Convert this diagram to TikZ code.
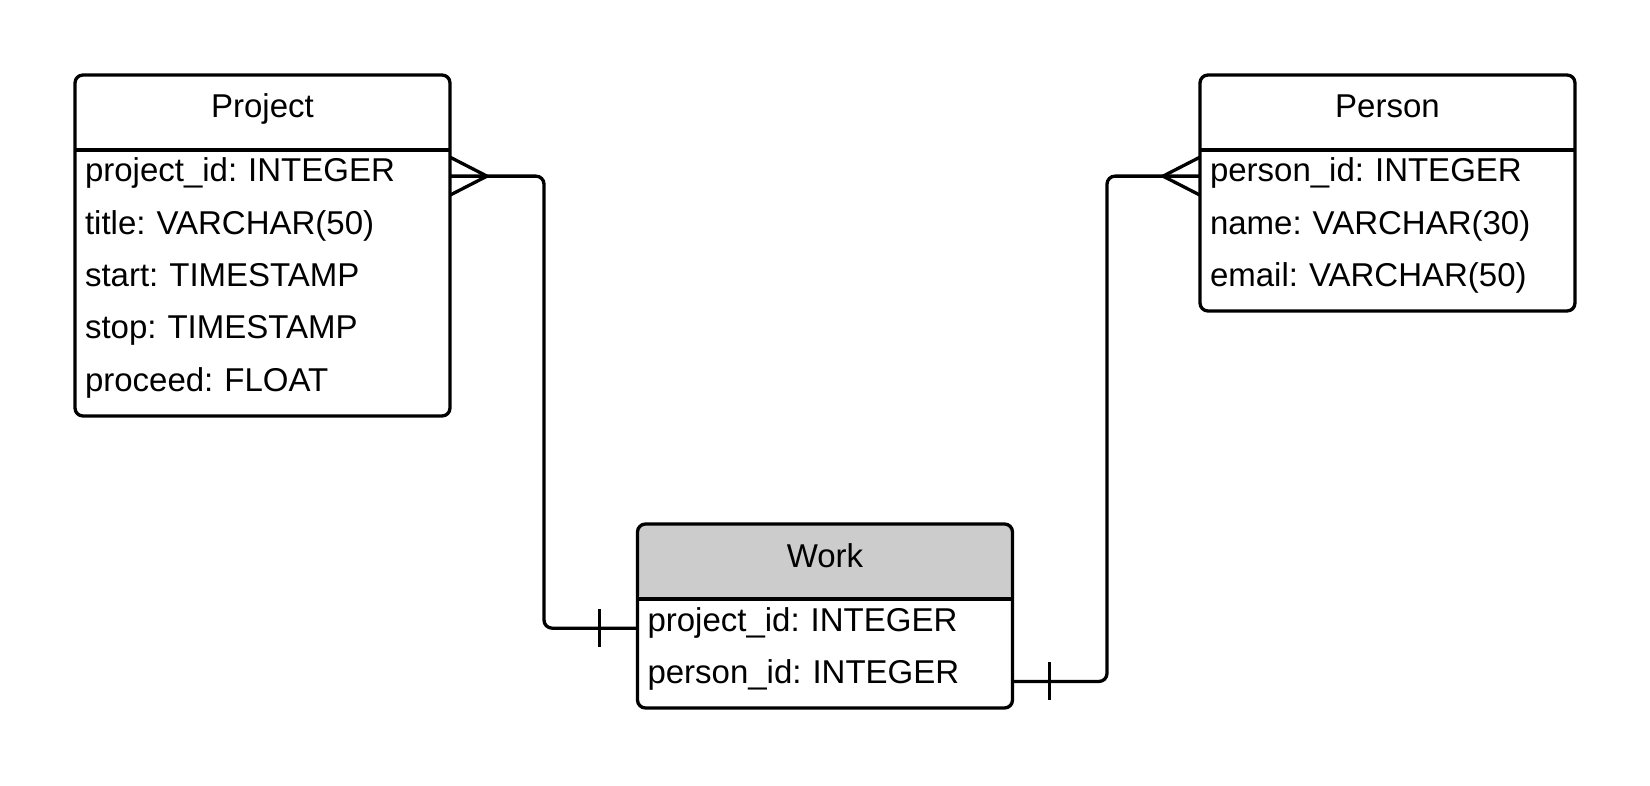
\documentclass[tikz,border=0pt]{standalone}
\usepackage{fontspec}
\setmainfont{Liberation Sans}
\usepackage{tikz}
\usetikzlibrary{positioning}
\frenchspacing
\definecolor{hdrgray}{RGB}{204,204,204}
\newcommand{\linkwidth}{3.3pt}
\newcommand{\crowfoot}[2]{\draw[line width=\linkwidth] ([yshift=19pt]#1)--([xshift=#2]#1)--([yshift=-19pt]#1);}
\newcommand{\onebar}[2]{\draw[line width=\linkwidth] ([xshift=#2,yshift=19pt]#1)--([xshift=#2,yshift=-19pt]#1);}
\newcommand{\headrule}[1]{\draw[line width=\linkwidth] (#1.south west)--(#1.south east);}
\tikzset{
  entity/.style={draw, line width=\linkwidth, rounded corners=8pt, minimum width=375pt, inner sep=0pt, outer sep=0pt},
  header/.style={minimum width=375pt, minimum height=75pt, inner sep=0pt, outer sep=0pt, text height=23pt, text depth=12pt, font=\fontsize{33}{40}\selectfont},
  field/.style={text width=355pt, inner xsep=10pt, inner ysep=0pt, outer sep=0pt, align=left, text height=32pt, text depth=20.3pt, font=\fontsize{33}{40}\selectfont},
  link/.style={draw, line width=\linkwidth, rounded corners=8pt},
  grayhead/.style={path picture={\fill[hdrgray] (path picture bounding box.north west) rectangle ([yshift=-75pt]path picture bounding box.north east);}}
}
\begin{document}
\begin{tikzpicture}[x=1pt,y=-1pt]
\useasboundingbox (0,0) rectangle (1650,786);
% Project
\node[entity, minimum height=341pt] (project) at (262.5,245.5) {};
\node[header, below=0pt of project.north] (project-h) {Project};
\headrule{project-h}
\node[field, below=0pt of project-h] (project-1) {project\_id: INTEGER};
\node[field, below=0pt of project-1] (project-2) {title: VARCHAR(50)};
\node[field, below=0pt of project-2] (project-3) {start: TIMESTAMP};
\node[field, below=0pt of project-3] (project-4) {stop: TIMESTAMP};
\node[field, below=0pt of project-4] (project-5) {proceed: FLOAT};
% Person
\node[entity, minimum height=236pt] (person) at (1387.5,193) {};
\node[header, below=0pt of person.north] (person-h) {Person};
\headrule{person-h}
\node[field, below=0pt of person-h] (person-1) {person\_id: INTEGER};
\node[field, below=0pt of person-1] (person-2) {name: VARCHAR(30)};
\node[field, below=0pt of person-2] (person-3) {email: VARCHAR(50)};
% Work
\node[entity, grayhead, minimum height=184pt] (work) at (825,616) {};
\node[header, below=0pt of work.north] (work-h) {Work};
\headrule{work-h}
\node[field, below=0pt of work-h] (work-1) {project\_id: INTEGER};
\node[field, below=0pt of work-1] (work-2) {person\_id: INTEGER};
\coordinate (work-1-in) at ([yshift=-3pt]work-1.west);
\coordinate (work-2-in) at ([yshift=-4pt]work-2.east);
% links
\draw[link] (project-1.east) -- ++(94,0) |- (work-1-in);
\crowfoot{project-1.east}{37pt}
\onebar{work-1-in}{-38pt}
\draw[link] (person-1.west) -- ++(-93,0) |- (work-2-in);
\crowfoot{person-1.west}{-37pt}
\onebar{work-2-in}{37pt}
\end{tikzpicture}
\end{document}
